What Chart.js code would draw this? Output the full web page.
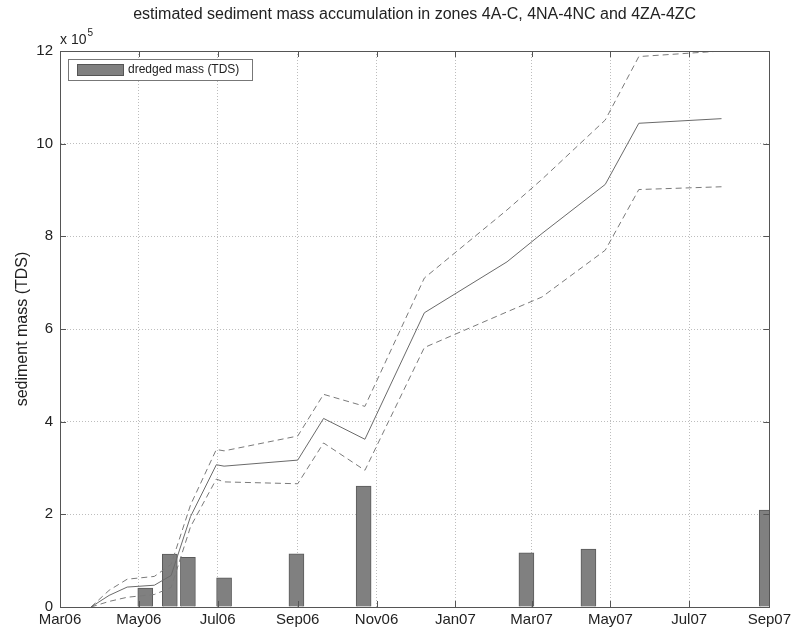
<!DOCTYPE html>
<html>
<head>
<meta charset="utf-8">
<script src="https://cdn.jsdelivr.net/npm/chart.js@4.4.0/dist/chart.umd.min.js"></script>
<style>
  html, body { margin: 0; padding: 0; background: #ffffff; }
  #wrap { width: 795px; height: 634px; }
</style>
</head>
<body>
<div id="wrap"><canvas id="c" width="795" height="634"></canvas></div>
<script>
// ---- data (x = days since 1 Mar 2006) ----
const tickDays   = [0, 61, 122, 184, 245, 306, 365, 426, 487, 549];
const tickLabels = ['Mar06','May06','Jul06','Sep06','Nov06','Jan07','Mar07','May07','Jul07','Sep07'];

const barDays     = [66, 85, 99, 127, 183, 235, 361, 409, 547];
const dredgedMass = [41000, 114000, 107000, 63000, 115000, 261000, 117000, 125000, 209000];

const lineDays  = [24, 38, 52, 73, 86, 101, 121, 127, 184, 204, 236, 282, 346, 373, 422, 448, 512];
const meanMass  = [0, 25000, 43000, 47000, 68000, 195000, 307000, 304000, 317000, 407000, 362000, 635000, 745000, 806000, 912000, 1044000, 1054000];
const upperMass = [0, 36000, 60000, 66000, 92000, 220000, 340000, 337000, 369000, 459000, 433000, 710000, 857000, 923000, 1051000, 1188000, 1200000];
const lowerMass = [0, 12000, 21000, 27000, 42000, 173000, 276000, 270000, 266000, 354000, 295000, 560000, 637000, 669000, 770000, 901000, 907000];

const yTicks = [0, 200000, 400000, 600000, 800000, 1000000, 1200000];

const titleText  = 'estimated sediment mass accumulation in zones 4A-C, 4NA-4NC and 4ZA-4ZC';
const yTitleText = 'sediment mass (TDS)';
const legendText = 'dredged mass (TDS)';

const FONT = '"Liberation Sans", Arial, Helvetica, sans-serif';
const AXIS_COLOR = '#555555';
const GRID_COLOR = '#bdbdbd';

function pts(xs, ys) { return xs.map((x, i) => ({ x: x, y: ys[i] })); }

const decor = {
  id: 'decor',
  afterDraw(chart) {
    const ctx = chart.ctx;
    const a = chart.chartArea;
    const xs = chart.scales.x, ys = chart.scales.y;
    ctx.save();
    // box
    ctx.strokeStyle = AXIS_COLOR;
    ctx.lineWidth = 1;
    ctx.setLineDash([]);
    ctx.beginPath();
    ctx.rect(Math.round(a.left) + 0.5, Math.round(a.top) + 0.5,
             Math.round(a.right - a.left), Math.round(a.bottom - a.top));
    ctx.stroke();
    // inward tick marks
    ctx.beginPath();
    tickDays.forEach(d => {
      const px = Math.round(xs.getPixelForValue(d)) + 0.5;
      ctx.moveTo(px, a.bottom); ctx.lineTo(px, a.bottom - 6);
      ctx.moveTo(px, a.top); ctx.lineTo(px, a.top + 6);
    });
    yTicks.forEach(v => {
      const py = Math.round(ys.getPixelForValue(v)) + 0.5;
      ctx.moveTo(a.left, py); ctx.lineTo(a.left + 6, py);
      ctx.moveTo(a.right, py); ctx.lineTo(a.right - 6, py);
    });
    ctx.stroke();

    // title
    ctx.fillStyle = '#222222';
    ctx.font = '16px ' + FONT;
    ctx.textAlign = 'center';
    ctx.textBaseline = 'middle';
    ctx.fillText(titleText, (a.left + a.right) / 2, 15);

    // y axis title
    ctx.save();
    ctx.translate(23, (a.top + a.bottom) / 2);
    ctx.rotate(-Math.PI / 2);
    ctx.font = '16px ' + FONT;
    ctx.fillText(yTitleText, 0, 0);
    ctx.restore();

    // exponent label
    ctx.textAlign = 'left';
    ctx.textBaseline = 'alphabetic';
    ctx.font = '14px ' + FONT;
    ctx.fillText('x 10', a.left, 44);
    const w = ctx.measureText('x 10').width;
    ctx.font = '10px ' + FONT;
    ctx.fillText('5', a.left + w + 1, 36);

    // legend
    const lx = 68, ly = 59, lw = 184, lh = 21;
    ctx.fillStyle = '#ffffff';
    ctx.fillRect(lx, ly, lw, lh);
    ctx.strokeStyle = '#777777';
    ctx.strokeRect(lx + 0.5, ly + 0.5, lw, lh);
    ctx.fillStyle = '#808080';
    ctx.fillRect(77, 64, 46, 11);
    ctx.strokeStyle = '#555555';
    ctx.strokeRect(77.5, 64.5, 46, 11);
    ctx.fillStyle = '#222222';
    ctx.font = '12px ' + FONT;
    ctx.textBaseline = 'middle';
    ctx.fillText(legendText, 128, 70);
    ctx.restore();
  }
};

new Chart(document.getElementById('c'), {
  type: 'line',
  data: {
    datasets: [
      {
        type: 'bar',
        label: legendText,
        data: pts(barDays, dredgedMass),
        backgroundColor: '#808080',
        borderColor: '#5a5a5a',
        borderWidth: 1,
        barThickness: 15,
        clip: 0,
        order: 2
      },
      {
        label: 'mean',
        data: pts(lineDays, meanMass),
        borderColor: '#6a6a6a',
        borderWidth: 1,
        pointRadius: 0,
        tension: 0,
        fill: false,
        order: 1
      },
      {
        label: 'upper',
        data: pts(lineDays, upperMass),
        borderColor: '#7a7a7a',
        borderWidth: 1,
        borderDash: [6, 4],
        pointRadius: 0,
        tension: 0,
        fill: false,
        order: 1
      },
      {
        label: 'lower',
        data: pts(lineDays, lowerMass),
        borderColor: '#7a7a7a',
        borderWidth: 1,
        borderDash: [6, 4],
        pointRadius: 0,
        tension: 0,
        fill: false,
        order: 1
      }
    ]
  },
  options: {
    responsive: false,
    animation: false,
    devicePixelRatio: 1,
    layout: { padding: { top: 51, right: 24, left: 0, bottom: 0 } },
    plugins: {
      legend: { display: false },
      title: { display: false },
      tooltip: { enabled: false }
    },
    scales: {
      x: {
        type: 'linear',
        min: 0,
        max: 549,
        offset: false,
        afterBuildTicks: s => { s.ticks = tickDays.map(v => ({ value: v })); },
        afterFit: s => { s.height = 27; },
        ticks: {
          autoSkip: false,
          maxRotation: 0,
          padding: 4,
          color: '#222222',
          font: { family: FONT, size: 15 },
          callback: v => { const i = tickDays.indexOf(v); return i >= 0 ? tickLabels[i] : ''; }
        },
        grid: {
          color: GRID_COLOR,
          lineWidth: 1,
          offset: false,
          drawTicks: false
        },
        border: { display: true, color: AXIS_COLOR, dash: [1, 2] }
      },
      y: {
        type: 'linear',
        min: 0,
        max: 1200000,
        afterBuildTicks: s => { s.ticks = yTicks.map(v => ({ value: v })); },
        afterFit: s => { s.width = 60; },
        ticks: {
          padding: 7,
          color: '#222222',
          font: { family: FONT, size: 15 },
          callback: v => String(v / 100000)
        },
        grid: {
          color: GRID_COLOR,
          lineWidth: 1,
          offset: false,
          drawTicks: false
        },
        border: { display: true, color: AXIS_COLOR, dash: [1, 2] }
      }
    }
  },
  plugins: [decor]
});
</script>
</body>
</html>
